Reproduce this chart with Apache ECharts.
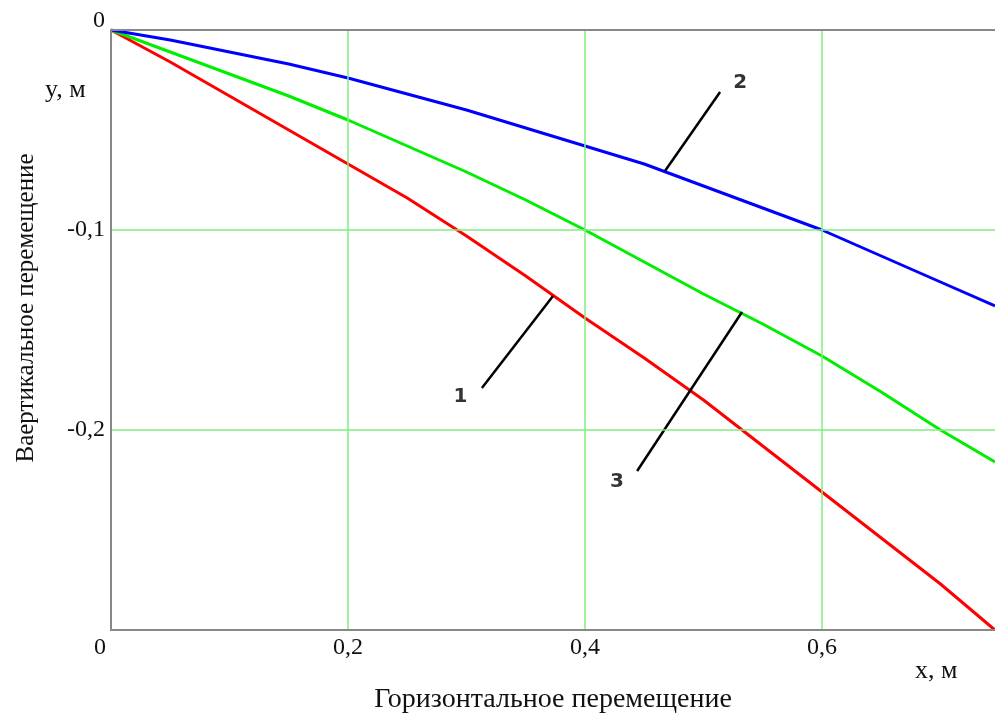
<!DOCTYPE html>
<html>
<head>
<meta charset="utf-8">
<script src="https://cdn.jsdelivr.net/npm/echarts@6/dist/echarts.min.js"></script>
<style>html,body{margin:0;padding:0;background:#fff;}#c{width:995px;height:713px;}</style>
</head>
<body>
<div id="c"></div>
<script>
var xs = [0, 0.05, 0.1, 0.15, 0.2, 0.25, 0.3, 0.35, 0.4, 0.45, 0.5, 0.55, 0.6, 0.65, 0.7, 0.746];
var curve1 = [0, -0.016, -0.033, -0.050, -0.067, -0.084, -0.103, -0.123, -0.144, -0.164, -0.185, -0.208, -0.231, -0.254, -0.277, -0.300];
var curve2 = [0, -0.005, -0.011, -0.017, -0.024, -0.032, -0.040, -0.049, -0.058, -0.067, -0.078, -0.089, -0.100, -0.113, -0.126, -0.138];
var curve3 = [0, -0.011, -0.022, -0.033, -0.045, -0.058, -0.071, -0.085, -0.100, -0.116, -0.132, -0.147, -0.163, -0.181, -0.200, -0.216];
var xTicks = ['0', '0,2', '0,4', '0,6'];
var yTicks = ['0', '-0,1', '-0,2'];
var leaders = [
  {name: '1', line: [[0.373, -0.133], [0.313, -0.179]], label: [0.295, -0.1835]},
  {name: '2', line: [[0.514, -0.031], [0.4675, -0.0705]], label: [0.531, -0.0265]},
  {name: '3', line: [[0.5325, -0.141], [0.444, -0.2205]], label: [0.427, -0.226]}
];

function pairs(ys) { return xs.map(function (x, i) { return [x, ys[i]]; }); }

var series = [
  {type: 'line', data: pairs(curve1), showSymbol: false, smooth: false, lineStyle: {color: '#ff0000', width: 3}, z: 5},
  {type: 'line', data: pairs(curve3), showSymbol: false, smooth: false, lineStyle: {color: '#00ee00', width: 3}, z: 5},
  {type: 'line', data: pairs(curve2), showSymbol: false, smooth: false, lineStyle: {color: '#0000ff', width: 3}, z: 5}
];
leaders.forEach(function (l) {
  series.push({type: 'line', data: l.line, showSymbol: false, lineStyle: {color: '#000', width: 2.5}, z: 6});
});
series.push({
  type: 'scatter', symbolSize: 0, z: 7,
  data: leaders.map(function (l) { return {name: l.name, value: l.label}; }),
  label: {show: true, position: 'inside', formatter: '{b}', color: '#000', fontFamily: 'DejaVu Sans', fontWeight: 'bold', fontSize: 20}
});

var chart = echarts.init(document.getElementById('c'));
chart.setOption({
  animation: false,
  backgroundColor: '#fff',
  grid: {left: 111, top: 30, right: 0, bottom: 83, containLabel: false, outerBoundsMode: 'none'},
  xAxis: [{
    type: 'value', min: 0, max: 0.746, interval: 0.2,
    name: 'Горизонтальное перемещение', nameLocation: 'middle', nameGap: 56,
    nameTextStyle: {fontFamily: 'Liberation Serif', fontSize: 28, color: '#111'},
    axisLine: {show: true, onZero: false, lineStyle: {color: '#888', width: 2}},
    axisTick: {show: false},
    splitLine: {show: true, showMaxLine: false, lineStyle: {color: '#80ee80', width: 1.5}},
    axisLabel: {
      showMaxLabel: false, margin: 6, fontFamily: 'Liberation Serif', fontSize: 24, color: '#111',
      formatter: function (v) {
        var i = Math.round(v / 0.2);
        if (Math.abs(v - i * 0.2) > 1e-6) return '';
        return i === 0 ? '{z|0}' : xTicks[i];
      },
      rich: {z: {fontFamily: 'Liberation Serif', fontSize: 24, color: '#111', padding: [0, 22, 0, 0]}}
    },
    z: 10
  }, {
    type: 'value', position: 'top', min: 0, max: 0.746,
    axisLine: {show: true, onZero: false, lineStyle: {color: '#888', width: 2}},
    axisTick: {show: false}, axisLabel: {show: false}, splitLine: {show: false}, z: 10
  }],
  yAxis: {
    type: 'value', min: -0.3, max: 0, interval: 0.1,
    name: 'Ваертикальное перемещение', nameLocation: 'middle', nameGap: 72, nameRotate: 90,
    nameTextStyle: {fontFamily: 'Liberation Serif', fontSize: 25, color: '#111', padding: [0, 0, 0, 44]},
    axisLine: {show: true, onZero: false, lineStyle: {color: '#888', width: 2}},
    axisTick: {show: false},
    splitLine: {show: true, lineStyle: {color: '#80ee80', width: 1.5}},
    axisLabel: {
      margin: 6, fontFamily: 'Liberation Serif', fontSize: 24, color: '#111',
      formatter: function (v) {
        var i = Math.round(-v / 0.1);
        if (i >= yTicks.length) return '';
        return i === 0 ? '{t|0}' : yTicks[i];
      },
      rich: {t: {fontFamily: 'Liberation Serif', fontSize: 24, color: '#111', padding: [0, 0, 18, 0]}}
    },
    z: 10
  },
  graphic: [
    {type: 'text', left: 915, top: 658, style: {text: 'x, м', font: '26px "Liberation Serif"', fill: '#111'}},
    {type: 'text', left: 45, top: 77, style: {text: 'y, м', font: '26px "Liberation Serif"', fill: '#111'}}
  ],
  series: series
});
</script>
</body>
</html>
